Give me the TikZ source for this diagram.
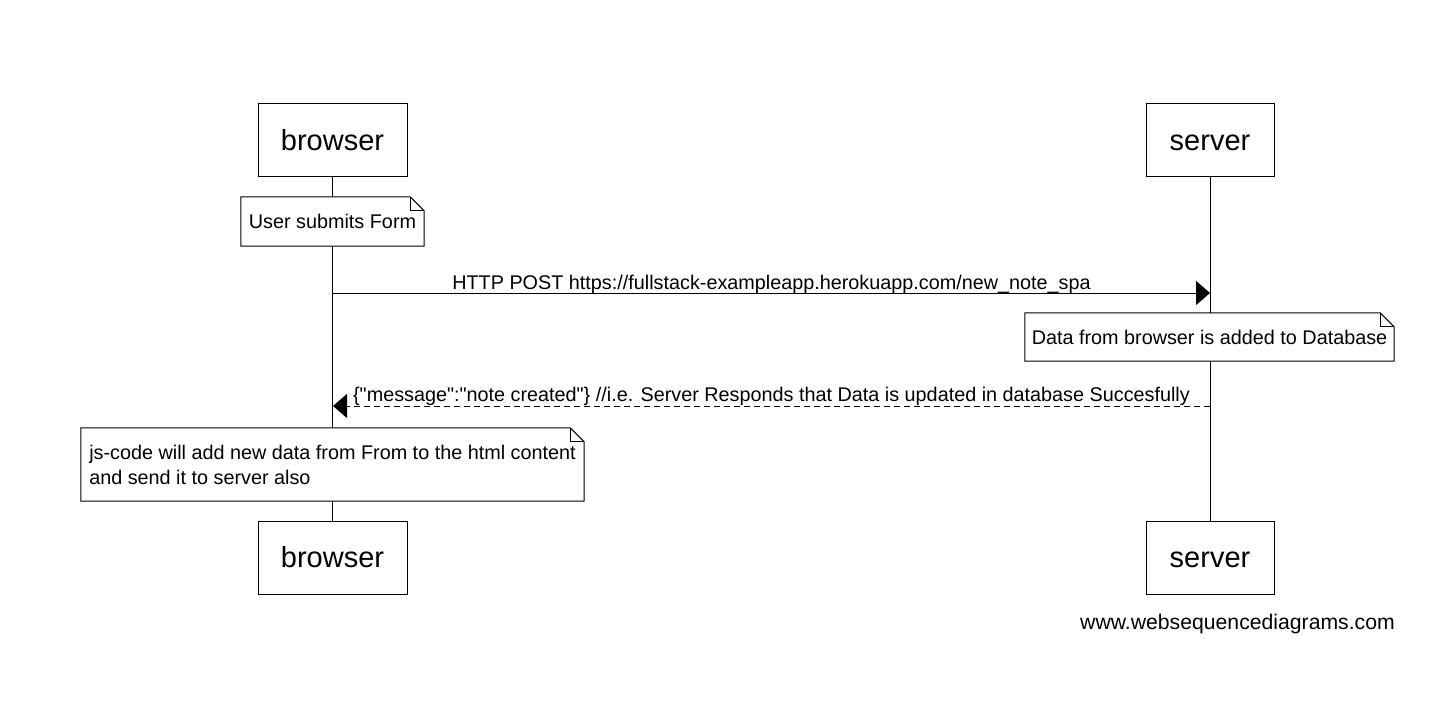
\documentclass[tikz,border=0pt]{standalone}
\usepackage{fontspec}
\setmainfont{Liberation Sans}[Ligatures=TeXOff]
\usetikzlibrary{arrows.meta,calc}
\begin{document}
\begin{tikzpicture}[x=1pt,y=-1pt,
  actor/.style={draw,line width=1pt,minimum width=149pt,minimum height=73pt,inner sep=0pt,font=\fontsize{29}{34}\selectfont},
  notebox/.style={inner sep=0pt,fill=white,font=\fontsize{19.8}{25}\selectfont},
  noteline/.style={line width=1pt},
  msg/.style={line width=1pt,-{Triangle[length=14pt,width=24pt]}},
  lbl/.style={font=\fontsize{19.8}{24}\selectfont,inner sep=1pt,anchor=south}]
\useasboundingbox (0,0) rectangle (1439,711);
% actors
\node[actor] (bt) at (332.5,140.5) {\vphantom{b}browser};
\node[actor,minimum width=128pt] (st) at (1210,140.5) {\vphantom{b}server};
\node[actor] (bb) at (332.5,557.5) {\vphantom{b}browser};
\node[actor,minimum width=128pt] (sb) at (1210,557.5) {\vphantom{b}server};
% lifelines
\draw[line width=1pt] (bt.south) -- (bb.north);
\draw[line width=1pt] (st.south) -- (sb.north);
% note 1
\node[notebox,minimum width=183pt,minimum height=49pt] (n1) at (332.5,221.5) {User submits Form};
\draw[noteline] (n1.north west) -- ($(n1.north east)+(-14,0)$) -- ($(n1.north east)+(0,14)$) -- (n1.south east) -- (n1.south west) -- cycle;
\draw[noteline] ($(n1.north east)+(-14,0)$) |- ($(n1.north east)+(0,14)$);
% message 1
\coordinate (m1a) at (333,293);
\coordinate (m1b) at (1210,293);
\draw[msg] (m1a) -- (m1b) node[lbl,midway,yshift=-2pt] {HTTP POST https://fullstack-exampleapp.herokuapp.com/new\_note\_spa};
% note 2
\node[notebox,minimum width=369pt,minimum height=48pt] (n2) at (1209.5,337) {Data from browser is added to Database};
\draw[noteline] (n2.north west) -- ($(n2.north east)+(-14,0)$) -- ($(n2.north east)+(0,14)$) -- (n2.south east) -- (n2.south west) -- cycle;
\draw[noteline] ($(n2.north east)+(-14,0)$) |- ($(n2.north east)+(0,14)$);
% return message
\coordinate (m2a) at (1210,406);
\coordinate (m2b) at (333,406);
\draw[msg,dash pattern=on 6pt off 4pt] (m2a) -- (m2b) node[lbl,midway,yshift=-1pt] {\{"message":"note created"\} //i.e. Server Responds that Data is updated in database Succesfully};
% note 3
\node[notebox,minimum width=503pt,minimum height=73pt,align=left] (n3) at (332.5,464.5) {js-code will add new data from From to the html content\\and send it to server also};
\draw[noteline] (n3.north west) -- ($(n3.north east)+(-14,0)$) -- ($(n3.north east)+(0,14)$) -- (n3.south east) -- (n3.south west) -- cycle;
\draw[noteline] ($(n3.north east)+(-14,0)$) |- ($(n3.north east)+(0,14)$);
% footer
\node[font=\fontsize{21.2}{25}\selectfont,anchor=east,inner sep=0pt] (ft) at (1395,624) {www.websequencediagrams.com};
\end{tikzpicture}
\end{document}
